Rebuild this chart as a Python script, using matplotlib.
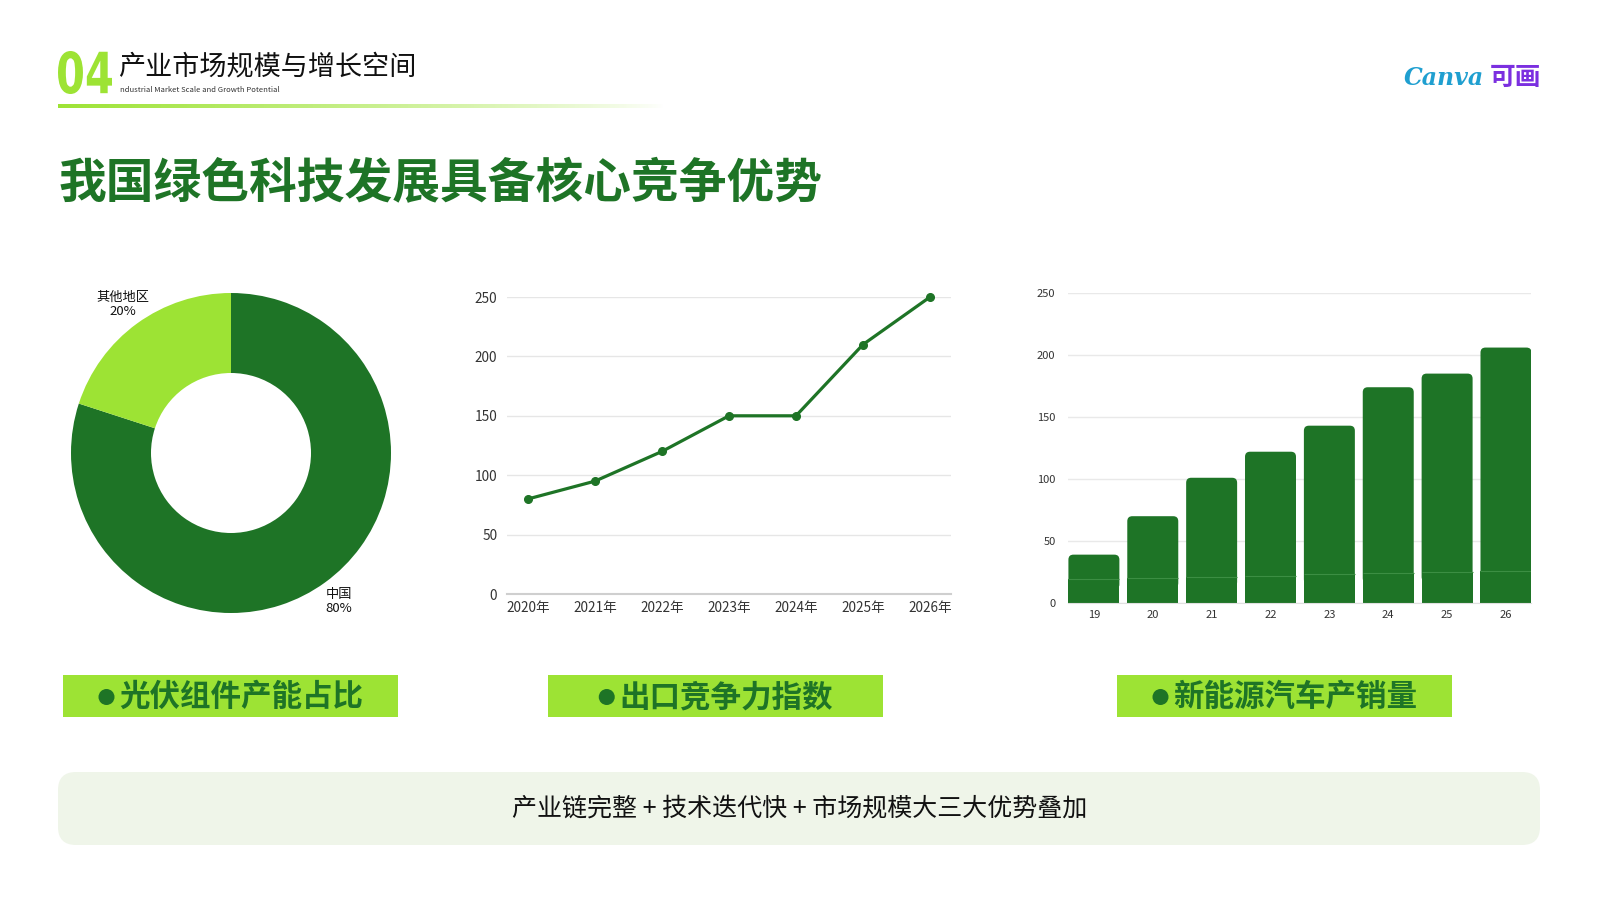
import matplotlib
matplotlib.use("Agg")
import matplotlib.pyplot as plt
import numpy as np
from matplotlib.patches import FancyBboxPatch, Rectangle, PathPatch, Circle
from matplotlib.textpath import TextPath
from matplotlib.font_manager import FontProperties
from matplotlib.transforms import Affine2D

plt.rcParams['font.family'] = ['Noto Sans CJK SC', 'DejaVu Sans']

# ---------------- data ----------------
pie_labels = ["中国", "其他地区"]
pie_values = [80, 20]

line_years = ["2020年", "2021年", "2022年", "2023年", "2024年", "2025年", "2026年"]
line_values = [80, 95, 120, 150, 150, 210, 250]

bar_cats = ["19", "20", "21", "22", "23", "24", "25", "26"]
bar_base = [19, 20, 21, 22, 23, 24, 25, 26]
bar_values = [20, 50, 80, 100, 120, 150, 160, 180]

box_titles = ["光伏组件产能占比", "出口竞争力指数", "新能源汽车产销量"]

DG = "#1E7426"
LIME = "#9DE334"
W, H = 1600, 900

fig = plt.figure(figsize=(16, 9), dpi=100)
fig.patch.set_facecolor("white")

# background axes in pixel coordinates
bg = fig.add_axes([0, 0, 1, 1], zorder=0)
bg.set_xlim(0, W)
bg.set_ylim(H, 0)
bg.axis("off")

# header "04" as a condensed bold glyph path
tp = TextPath((0, 0), "04", size=60, prop=FontProperties(family="DejaVu Sans", weight="bold"))
ext = tp.get_extents()
sx = (112 - 58) / ext.width
sy = (94 - 51) / ext.height
tr = Affine2D().translate(-ext.x0, -ext.y0).scale(sx, -sy).translate(58, 94)
bg.add_patch(PathPatch(tr.transform_path(tp), facecolor=LIME, edgecolor="none"))

bg.text(118, 67, "产业市场规模与增长空间", fontsize=19.5, color="#111111",
        ha="left", va="center")
bg.text(120, 90, "ndustrial Market Scale and Growth Potential", fontsize=5.5,
        color="#333333", ha="left", va="center")
grad = np.ones((1, 256, 4))
grad[0, :, 0] = 157 / 255
grad[0, :, 1] = 227 / 255
grad[0, :, 2] = 52 / 255
grad[0, :, 3] = np.linspace(1, 0, 256) ** 0.8
bg.imshow(grad, extent=(58, 665, 108, 104), aspect="auto", interpolation="bilinear")

# logo
bg.text(1484, 78, "Canva", fontsize=17, fontstyle="italic", fontweight="bold",
        family=["DejaVu Serif"], color="#1F9FD0", ha="right", va="center")
bg.text(1541, 77, "可画", fontsize=18.5, fontweight="bold", color="#7B2FE0",
        ha="right", va="center")

# heading
bg.text(59, 184, "我国绿色科技发展具备核心竞争优势", fontsize=34.4, fontweight="bold",
        color=DG, ha="left", va="center")

# label boxes
renderer = fig.canvas.get_renderer()
box_x = [(63, 398), (548, 883), (1117, 1452)]
for (x0, x1), t in zip(box_x, box_titles):
    bg.add_patch(Rectangle((x0, 675), x1 - x0, 42, facecolor=LIME, edgecolor="none"))
    txt = bg.text((x0 + x1) / 2 + 11, 697, t, fontsize=22, fontweight="bold", color=DG,
                  ha="center", va="center")
    bb = txt.get_window_extent(renderer=renderer)
    bg.add_patch(Circle((bb.x0 - 13, 697), 8, facecolor=DG, edgecolor="none"))

# bottom banner
bg.add_patch(FancyBboxPatch((58, 772), 1482, 73,
                            boxstyle="round,pad=0,rounding_size=18",
                            facecolor="#EFF5E9", edgecolor="none"))
bg.text(800, 808, "产业链完整 + 技术迭代快 + 市场规模大三大优势叠加", fontsize=18,
        color="#111111", ha="center", va="center")


def fig_rect(x0, y_top, x1, y_bot):
    return [x0 / W, 1 - y_bot / H, (x1 - x0) / W, (y_bot - y_top) / H]


# ---------------- donut ----------------
cx, cy, R = 231, 453, 160
half = R * 1.35
axp = fig.add_axes(fig_rect(cx - half, cy - half, cx + half, cy + half), zorder=2)
labels = [f"{n}\n{v}%" for n, v in zip(pie_labels, pie_values)]
wedges, texts = axp.pie(pie_values, colors=[DG, LIME], startangle=90,
                        counterclock=False, radius=1,
                        wedgeprops=dict(width=0.5, edgecolor="none"),
                        labels=labels, labeldistance=1.15,
                        textprops=dict(fontsize=9.5, color="#111111"))
for t in texts:
    t.set_ha("center")
    t.set_va("center")
    t.set_linespacing(1.1)
axp.set_xlim(-1.35, 1.35)
axp.set_ylim(-1.35, 1.35)
axp.set_aspect("equal")
axp.axis("off")

# ---------------- line chart ----------------
axl = fig.add_axes(fig_rect(507, 297, 951, 594), zorder=2)
xl = np.arange(len(line_years))
axl.plot(xl, line_values, color=DG, lw=2.3, marker="o", markersize=5.5, clip_on=False, zorder=3)
axl.set_xlim(-0.313, len(line_years) - 1 + 0.313)
axl.set_ylim(0, 250)
axl.set_yticks(range(0, 251, 50))
axl.set_xticks(xl)
axl.set_xticklabels(line_years)
axl.grid(axis="y", color="#E6E6E6", lw=1)
axl.set_axisbelow(True)
for s in ["top", "right", "left"]:
    axl.spines[s].set_visible(False)
axl.spines["bottom"].set_color("#CFCFCF")
axl.spines["bottom"].set_linewidth(1.5)
axl.tick_params(length=0, labelsize=9.8, colors="#333333", pad=5)
axl.tick_params(axis="y", pad=7)

# ---------------- bar chart ----------------
axb = fig.add_axes(fig_rect(1068, 293, 1531, 603), zorder=2)
xb = np.arange(len(bar_cats))
bw = 0.866
axb.set_xlim(-0.44, len(bar_cats) - 1 + 0.425)
axb.set_ylim(0, 250)
low = axb.bar(xb, bar_base, width=bw, color=DG, zorder=2)
top = axb.bar(xb, bar_values, bottom=bar_base, width=bw, color=DG, zorder=2)
# rounded top corners
px_y = 250 / 310.0
px_x = (len(bar_cats) - 1 + 0.425 + 0.44) / 463.0
rx = 5 * px_x
aspect = (5 * px_y) / rx
for p in top:
    x0, y0, w, h = p.get_x(), p.get_y(), p.get_width(), p.get_height()
    p.set_visible(False)
    fb = FancyBboxPatch((x0, y0 - 8), w, h + 8,
                        boxstyle=f"round,pad=0,rounding_size={rx}",
                        mutation_aspect=aspect, facecolor=DG, edgecolor="none", zorder=2)
    axb.add_patch(fb)
axb.hlines(bar_base, xb - bw / 2, xb + bw / 2, colors="#3C8E43", lw=0.8, zorder=3)
axb.set_xticks(xb)
axb.set_xticklabels(bar_cats)
axb.set_yticks(range(0, 251, 50))
axb.grid(axis="y", color="#E9E9E9", lw=1)
axb.set_axisbelow(True)
for s in ["top", "right", "left"]:
    axb.spines[s].set_visible(False)
axb.spines["bottom"].set_color("#E0E0E0")
axb.tick_params(length=0, labelsize=8, colors="#333333", pad=5)
axb.tick_params(axis="y", pad=9)

fig.savefig("out.png", dpi=100, facecolor="white")
